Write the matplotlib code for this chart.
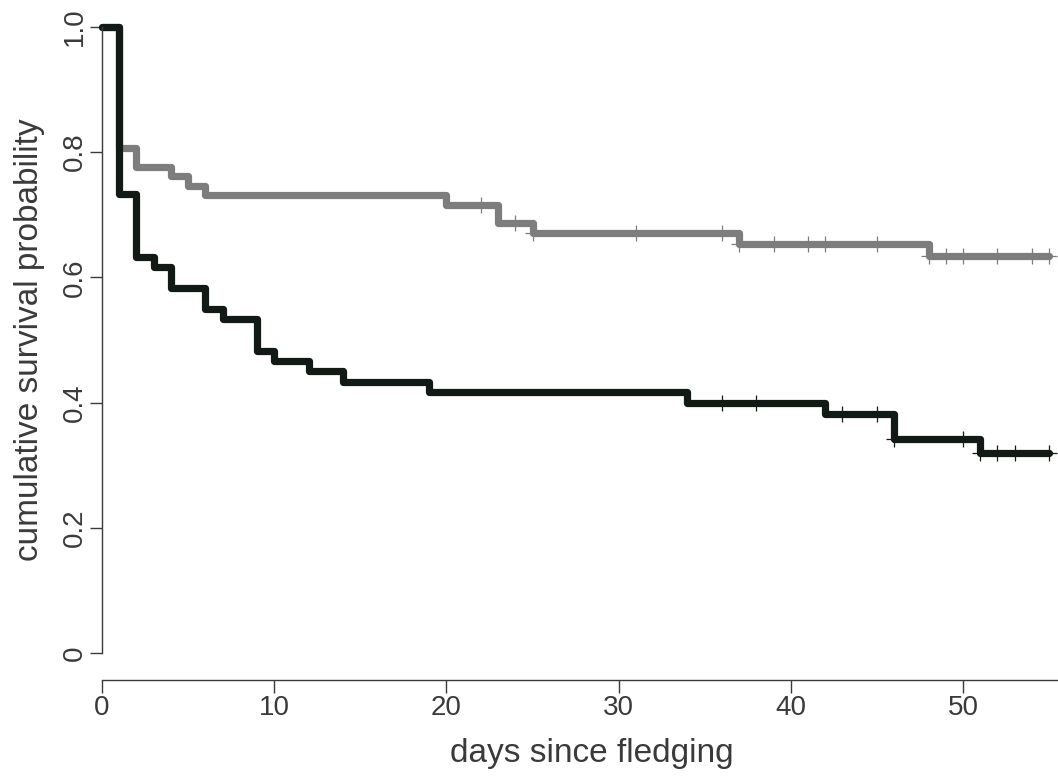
import numpy as np
import matplotlib
matplotlib.use('Agg')
import matplotlib.pyplot as plt

# Kaplan-Meier step values
# black group
black_t = [0, 1, 2, 3, 4, 6, 7, 9, 10, 12, 14, 19, 34, 42, 46, 51, 55]
black_s = [1.0, 0.733, 0.633, 0.617, 0.583, 0.550, 0.533, 0.483, 0.467,
           0.450, 0.433, 0.417, 0.400, 0.382, 0.342, 0.319, 0.319]
black_cens = [36, 38, 43, 45, 46, 50, 51, 52, 53, 55]

# grey group
grey_t = [0, 1, 2, 4, 5, 6, 20, 23, 25, 37, 48, 55]
grey_s = [1.0, 0.806, 0.776, 0.761, 0.746, 0.731, 0.716, 0.686, 0.670,
          0.654, 0.634, 0.634]
grey_cens = [22, 24, 25, 31, 36, 37, 39, 41, 42, 45, 48, 49, 50, 52, 54, 55]

x_ticks = [0, 10, 20, 30, 40, 50]
y_ticks = [0, 0.2, 0.4, 0.6, 0.8, 1.0]
y_ticklabels = ['0', '0.2', '0.4', '0.6', '0.8', '1.0']

plt.rcParams['font.family'] = ['Liberation Sans', 'DejaVu Sans']

txt_col = '#3a3a3a'
black_col = '#111a15'
grey_col = '#7d7d7d'


def surv_at(t_steps, s_steps, t):
    # value of right-continuous step function at t
    idx = np.searchsorted(t_steps, t, side='right') - 1
    return np.array(s_steps)[idx]


W, H = 1058, 776
fig = plt.figure(figsize=(W / 100, H / 100), dpi=100)
ax_left, ax_right = 102, 1058
ax_top, ax_bot = 26.7, 653.3
ax = fig.add_axes([ax_left / W, (H - ax_bot) / H,
                   (ax_right - ax_left) / W, (ax_bot - ax_top) / H])

px_per_day = (963 - 102) / 50
ax.set_xlim(0, (ax_right - ax_left) / px_per_day)
ax.set_ylim(0, 1)

for t, s, cens, col in [(grey_t, grey_s, grey_cens, grey_col),
                        (black_t, black_s, black_cens, black_col)]:
    ax.step(t, s, where='post', color=col, lw=5.2, clip_on=False,
            solid_capstyle='round', solid_joinstyle='round')
    ax.plot(cens, surv_at(t, s, cens), ls='none', marker='+', ms=12,
            mew=0.9, color=col, clip_on=False)

for side in ['top', 'right']:
    ax.spines[side].set_visible(False)
ax.spines['bottom'].set_position(('outward', 19.2))
ax.spines['bottom'].set_bounds(0, (ax_right - ax_left) / px_per_day)
for side in ['left', 'bottom']:
    ax.spines[side].set_color(txt_col)
    ax.spines[side].set_linewidth(1.0)

ax.set_xticks(x_ticks)
ax.set_yticks(y_ticks)
ax.set_yticklabels(y_ticklabels, rotation=90, va='center')
ax.tick_params(axis='both', direction='out', length=9, width=1.0,
               color=txt_col, labelcolor=txt_col, labelsize=20)
ax.tick_params(axis='x', pad=2)
ax.tick_params(axis='y', pad=1)

ax.set_xlabel('days since fledging', fontsize=24, color=txt_col)
ax.set_ylabel('cumulative survival probability', fontsize=24, color=txt_col)
ax.xaxis.set_label_coords((591.7 - ax_left) / (ax_right - ax_left),
                          (ax_bot - 738) / (ax_bot - ax_top))
ax.yaxis.set_label_coords((45 - ax_left) / (ax_right - ax_left), 0.5)

fig.savefig('out.png', dpi=100)
